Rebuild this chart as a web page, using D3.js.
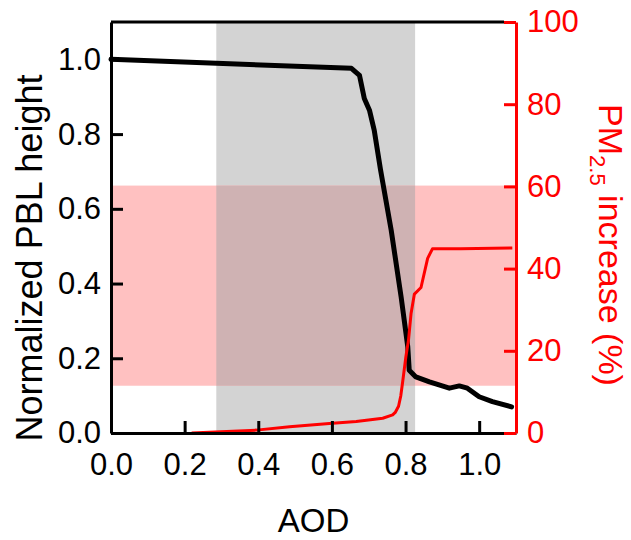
<!DOCTYPE html>
<html>
<head>
<meta charset="utf-8">
<script src="https://cdn.jsdelivr.net/npm/d3@7"></script>
<style>
  html, body { margin: 0; padding: 0; background: #fff; }
  svg { display: block; }
  text { font-family: "Liberation Sans", Arial, sans-serif; }
</style>
</head>
<body>
<svg id="chart" width="631" height="540"></svg>
<script>
// ---- data ----
const xTicks = [0.0, 0.2, 0.4, 0.6, 0.8, 1.0];
const yLeftTicks = [0.0, 0.2, 0.4, 0.6, 0.8, 1.0];
const yRightTicks = [0, 20, 40, 60, 80, 100];
const xDomain = [0, 1.1];
const yLeftDomain = [0, 1.1];
const yRightDomain = [0, 100];

// shaded AOD band (gray) and PM2.5 band (pink, right axis units)
const aodBand = [0.286, 0.826];
const pmBand = [11.5, 60.2];

// Normalized PBL height vs AOD (black)
const pblAOD = [0, 0.653, 0.675, 0.688, 0.702, 0.715, 0.732, 0.761, 0.788, 0.806, 0.81, 0.828, 0.865, 0.919, 0.946, 0.968, 1.0, 1.036, 1.088];
const pblHeight = [1.0, 0.976, 0.957, 0.895, 0.864, 0.81, 0.705, 0.543, 0.364, 0.231, 0.168, 0.15, 0.137, 0.12, 0.126, 0.12, 0.097, 0.084, 0.07];

// PM2.5 increase (%) vs AOD (red)
const pmAOD = [0.219, 0.395, 0.485, 0.593, 0.666, 0.738, 0.765, 0.772, 0.781, 0.787, 0.793, 0.801, 0.808, 0.815, 0.824, 0.842, 0.86, 0.873, 0.95, 1.09];
const pmIncrease = [0, 0.7, 1.5, 2.3, 2.8, 3.6, 4.4, 5.0, 6.5, 9, 13, 18.6, 22.6, 29.1, 33.8, 35.4, 42.5, 44.8, 44.8, 45.0];

// ---- layout ----
const L = 111, R = 516, T = 22, B = 433;
const svg = d3.select("#chart");
const x = d3.scaleLinear().domain(xDomain).range([L, R]);
const yL = d3.scaleLinear().domain(yLeftDomain).range([B, T]);
const yR = d3.scaleLinear().domain(yRightDomain).range([B, T]);

// bands
const gx0 = x(aodBand[0]), gx1 = x(aodBand[1]);
const py0 = yR(pmBand[1]), py1 = yR(pmBand[0]);
svg.append("rect").attr("x", gx0).attr("y", T).attr("width", gx1 - gx0).attr("height", B - T).attr("fill", "#d3d3d3");
svg.append("rect").attr("x", L).attr("y", py0).attr("width", R - L).attr("height", py1 - py0).attr("fill", "#ffc1c1");
svg.append("rect").attr("x", gx0).attr("y", py0).attr("width", gx1 - gx0).attr("height", py1 - py0).attr("fill", "#cfb2b3");

// lines
const pblData = pblAOD.map((a, i) => [a, pblHeight[i]]);
const pmData = pmAOD.map((a, i) => [a, pmIncrease[i]]);
svg.append("path").datum(pblData)
  .attr("d", d3.line().x(d => x(d[0])).y(d => yL(d[1])))
  .attr("fill", "none").attr("stroke", "#000").attr("stroke-width", 5)
  .attr("stroke-linejoin", "round").attr("stroke-linecap", "round");
svg.append("path").datum(pmData)
  .attr("d", d3.line().x(d => x(d[0])).y(d => yR(d[1])))
  .attr("fill", "none").attr("stroke", "#ff0000").attr("stroke-width", 3)
  .attr("stroke-linejoin", "round");

// axes
const fs = 31;
const xAxis = d3.axisBottom(x).tickValues(xTicks).tickFormat(d3.format(".1f")).tickSizeInner(-12).tickSizeOuter(0).tickPadding(20);
const gX = svg.append("g").attr("transform", `translate(0,${B})`).call(xAxis);
const yAxisL = d3.axisLeft(yL).tickValues(yLeftTicks).tickFormat(d3.format(".1f")).tickSizeInner(-12).tickSizeOuter(0).tickPadding(10);
const gYL = svg.append("g").attr("transform", `translate(${L},0)`).call(yAxisL);
const yAxisR = d3.axisRight(yR).tickValues(yRightTicks).tickFormat(d3.format("d")).tickSizeInner(-12).tickSizeOuter(0).tickPadding(11);
const gYR = svg.append("g").attr("transform", `translate(${R},0)`).call(yAxisR);

[gX, gYL].forEach(g => {
  g.selectAll("path.domain").attr("stroke", "#000").attr("stroke-width", 3);
  g.selectAll(".tick line").attr("stroke", "#000").attr("stroke-width", 3);
  g.selectAll(".tick text").attr("fill", "#000").style("font-size", fs + "px").style("font-family", "Liberation Sans, Arial, sans-serif");
});
gYR.selectAll("path.domain").attr("stroke", "#ff0000").attr("stroke-width", 3);
gYR.selectAll(".tick line").attr("stroke", "#ff0000").attr("stroke-width", 3);
gYR.selectAll(".tick text").attr("fill", "#ff0000").style("font-size", fs + "px").style("font-family", "Liberation Sans, Arial, sans-serif");

// top border
svg.append("line").attr("x1", L).attr("x2", R - 12).attr("y1", T).attr("y2", T).attr("stroke", "#000").attr("stroke-width", 3);

// titles
svg.append("text").attr("x", (L + R) / 2).attr("y", 532).attr("text-anchor", "middle")
  .style("font-size", "33px").attr("fill", "#000").text("AOD");
svg.append("text").attr("transform", `translate(42,258) rotate(-90)`).attr("text-anchor", "middle")
  .style("font-size", "36px").attr("fill", "#000").text("Normalized PBL height");
const rt = svg.append("text").attr("transform", `translate(599,245) rotate(90)`).attr("text-anchor", "middle")
  .style("font-size", "34px").attr("fill", "#ff0000");
rt.append("tspan").text("PM");
rt.append("tspan").attr("dy", 9).style("font-size", "22px").text("2.5");
rt.append("tspan").attr("dy", -9).text(" increase (%)");
</script>
</body>
</html>
